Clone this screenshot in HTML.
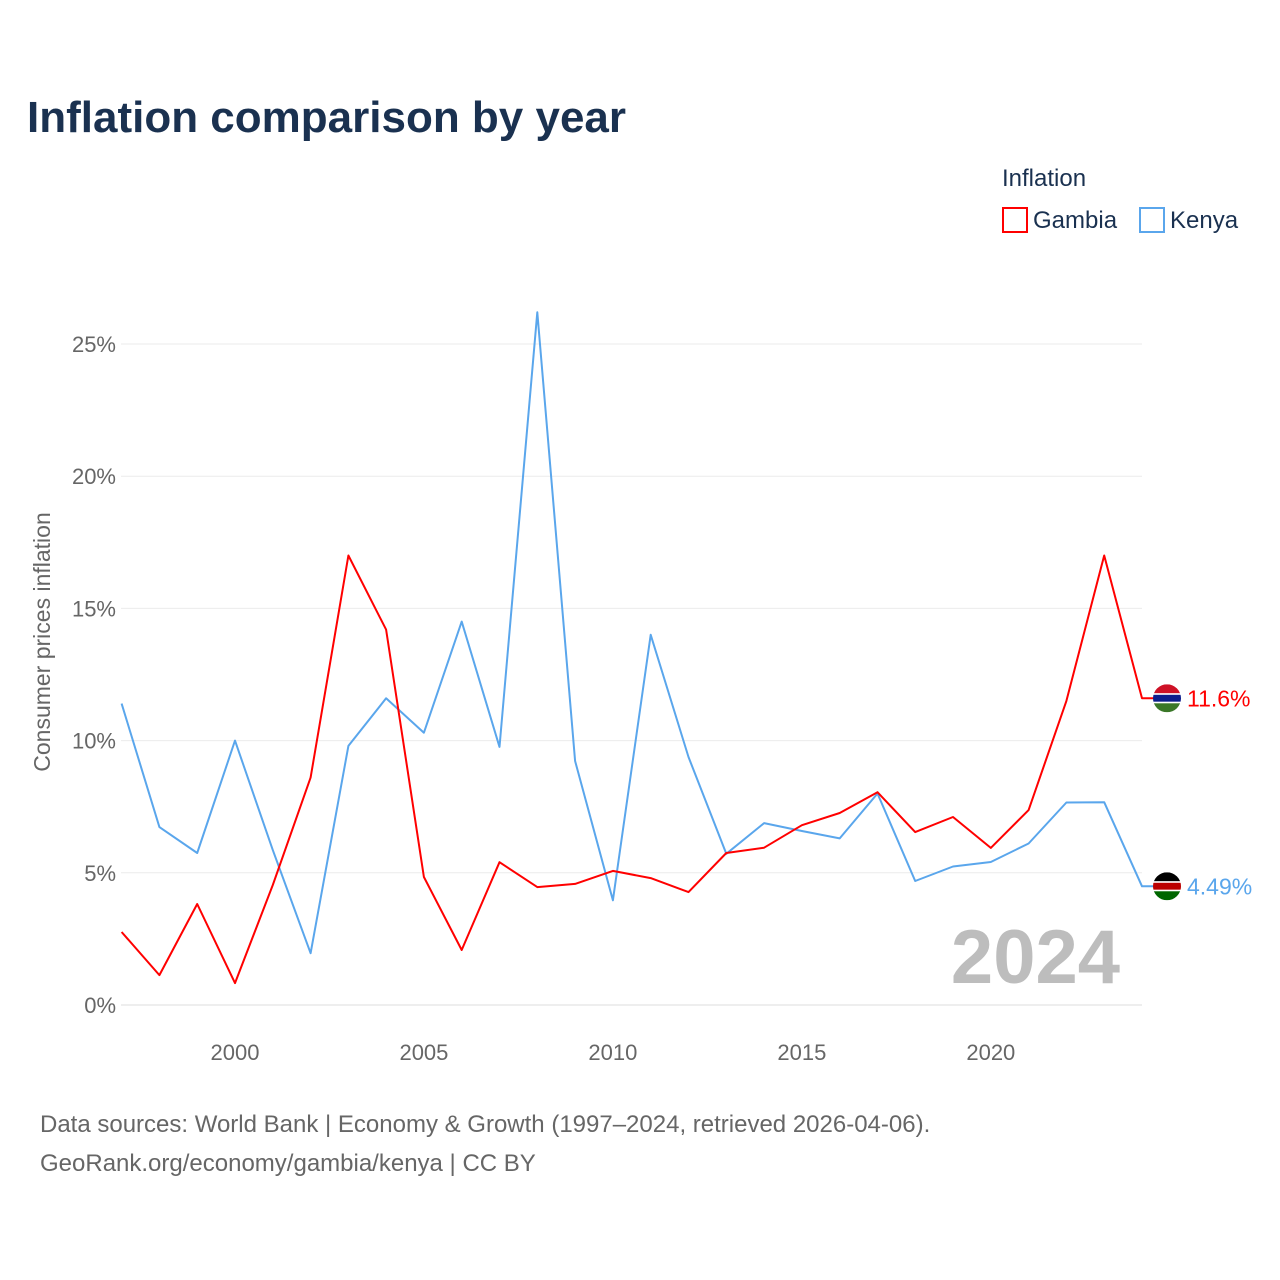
<!DOCTYPE html>
<html><head><meta charset="utf-8"><style>
body{margin:0;background:#fff;font-family:"Liberation Sans",sans-serif;}
</style></head><body>
<svg width="1280" height="1280" xmlns="http://www.w3.org/2000/svg" style="display:block">
<rect width="1280" height="1280" fill="#fff"/>
<text x="27" y="132" font-size="44" font-weight="bold" fill="#1a3150">Inflation comparison by year</text>
<text x="1002" y="186" font-size="24" fill="#1a3150">Inflation</text>
<g><rect x="1003" y="208" width="24" height="24" fill="none" stroke="#ff0000" stroke-width="2"/><text x="1033" y="228" font-size="24" fill="#1a3150">Gambia</text></g>
<g><rect x="1140" y="208" width="24" height="24" fill="none" stroke="#5aa6ec" stroke-width="2"/><text x="1170" y="228" font-size="24" fill="#1a3150">Kenya</text></g>
<g id="grid"></g>
<g id="yt"></g>
<g id="xt"></g>
<text transform="translate(50,642) rotate(-90)" text-anchor="middle" font-size="23" fill="#666">Consumer prices inflation</text>
<text x="1120" y="983" text-anchor="end" font-size="76" font-weight="bold" fill="#bdbdbd">2024</text>
<g id="series"></g>
<g id="ends"></g>
<text x="40" y="1132" font-size="24" fill="#666">Data sources: World Bank | Economy &amp; Growth (1997–2024, retrieved 2026-04-06).</text>
<text x="40" y="1171" font-size="24" fill="#666">GeoRank.org/economy/gambia/kenya | CC BY</text>
</svg>
<script>
const years=[1997,1998,1999,2000,2001,2002,2003,2004,2005,2006,2007,2008,2009,2010,2011,2012,2013,2014,2015,2016,2017,2018,2019,2020,2021,2022,2023,2024];
const gambia=[2.76,1.13,3.82,0.83,4.54,8.6,17.0,14.2,4.84,2.08,5.4,4.46,4.58,5.07,4.80,4.27,5.75,5.95,6.8,7.26,8.05,6.54,7.11,5.94,7.37,11.5,17.0,11.6];
const kenya=[11.4,6.73,5.75,10.0,5.86,1.96,9.8,11.6,10.3,14.5,9.76,26.2,9.23,3.96,14.0,9.38,5.72,6.88,6.58,6.3,8.0,4.69,5.24,5.41,6.11,7.66,7.67,4.49];
const yTicks=[0,5,10,15,20,25];
const xTicks=[2000,2005,2010,2015,2020];
const NS="http://www.w3.org/2000/svg";
const X=y=>121.6+(y-1997)*(1142-121.6)/27;
const Y=v=>1005-v*26.44;
function mk(t,a,p){const e=document.createElementNS(NS,t);for(const k in a)e.setAttribute(k,a[k]);p.appendChild(e);return e;}
const grid=document.getElementById('grid'),yt=document.getElementById('yt'),xt=document.getElementById('xt');
yTicks.forEach(v=>{
 const l=mk('line',{x1:121,x2:1142,y1:Y(v),y2:Y(v),stroke:v==0?'#ddd':'#ebebeb','stroke-width':1},grid);
 
 
 const t=mk('text',{x:116,y:Y(v)+8,'text-anchor':'end','font-size':22,fill:'#666'},yt);
 t.textContent=v+'%';
 
 
});
xTicks.forEach(v=>{
 const t=mk('text',{x:X(v),y:1060,'text-anchor':'middle','font-size':22,fill:'#666'},xt);
 t.textContent=v;
 
 
});
const series=document.getElementById('series'),ends=document.getElementById('ends');
const defs=mk('defs',{},document.querySelector('svg'));
function draw(vals,col,name,lab,stripes){
 let d=vals.map((v,i)=>(i?'L':'M')+X(years[i]).toFixed(1)+','+Y(v).toFixed(1)).join(' ');
 const last=vals[vals.length-1];
 d+=' L1155,'+Y(last).toFixed(1);
 const p=mk('path',{d:d,fill:'none',stroke:col,'stroke-width':2,'stroke-linejoin':'round'},series);
 
 
 const cy=Y(last);
 const cp=mk('clipPath',{id:'clip-'+name},defs);
 mk('circle',{cx:1167,cy:cy,r:14},cp);
 const g=mk('g',{'clip-path':'url(#clip-'+name+')'},ends);
 
 
 let yy=cy-14;
 stripes.forEach(s=>{mk('rect',{x:1153,y:yy,width:28,height:s[1],fill:s[0]},g);yy+=s[1];});
 const t=mk('text',{x:1187,y:cy+8,'font-size':23,fill:col},ends);
 t.textContent=lab;
 
 
}
draw(kenya,'#5aa6ec','kenya','4.49%',[['#000',9],['#fff',1.5],['#bb0000',7],['#fff',1.5],['#006600',9]]);
draw(gambia,'#ff0000','gambia','11.6%',[['#ce1126',9],['#fff',1.5],['#0c1c8c',7],['#fff',1.5],['#3a7728',9]]);
</script>
</body></html>
